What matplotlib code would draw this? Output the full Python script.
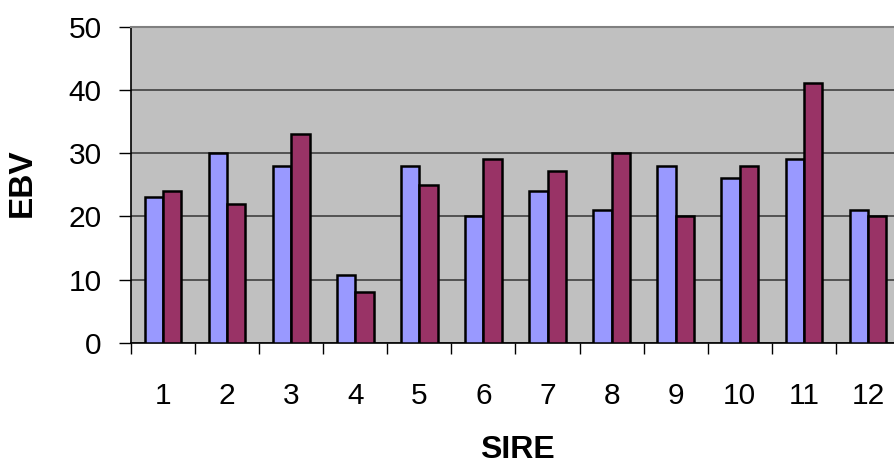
import numpy as np
from matplotlib import pyplot as plt

plt.rcParams['font.family'] = ['Liberation Sans', 'DejaVu Sans']

sires = ['1', '2', '3', '4', '5', '6', '7', '8', '9', '10', '11', '12']
ebv_a = [23, 30, 28, 10.8, 28, 20, 24, 21, 28, 26, 29, 21]
ebv_b = [24, 22, 33, 8, 25, 29, 27.2, 30, 20, 28, 41, 20]

fig = plt.figure(figsize=(8.95, 4.67), dpi=100)
# plot area runs a little past the right edge of the canvas
ax = fig.add_axes([131 / 895, 124 / 467, 769 / 895, 316.5 / 467])
ax.set_facecolor('#c0c0c0')

x = np.arange(len(sires))
width = 1 / 3.5
ax.bar(x - width / 2, ebv_a, width, color='#9999ff', edgecolor='black', linewidth=1.8, zorder=3)
ax.bar(x + width / 2, ebv_b, width, color='#993366', edgecolor='black', linewidth=1.8, zorder=3)

ax.set_xlim(-0.5, len(sires) - 0.5)
ax.set_ylim(0, 50)
ax.set_yticks(range(0, 51, 10))
ax.yaxis.grid(True, color='#404040', linewidth=1.2, zorder=1)

# category boundaries get the tick marks, centres get the labels
ax.set_xticks(np.arange(len(sires) + 1) - 0.5)
ax.set_xticklabels([])
ax.set_xticks(x, minor=True)
ax.set_xticklabels(sires, minor=True)
ax.tick_params(axis='x', which='major', length=8, width=1, direction='out')
ax.tick_params(axis='x', which='minor', length=0, pad=28, labelsize=21.5)
ax.tick_params(axis='y', length=9, width=1, pad=12, labelsize=21.5)

for side in ['left', 'bottom']:
    ax.spines[side].set_color('black')
    ax.spines[side].set_linewidth(1.2)
for side in ['top', 'right']:
    ax.spines[side].set_color('#808080')
    ax.spines[side].set_linewidth(1.5)

fig.text(22.5 / 895, 1 - 183 / 467, 'EBV', rotation=90, ha='center', va='center',
         fontsize=24, fontweight='bold')
fig.text(517 / 895, 1 - 458 / 467, 'SIRE', ha='center', va='baseline',
         fontsize=23, fontweight='bold')

fig.savefig('out.png', dpi=100)
